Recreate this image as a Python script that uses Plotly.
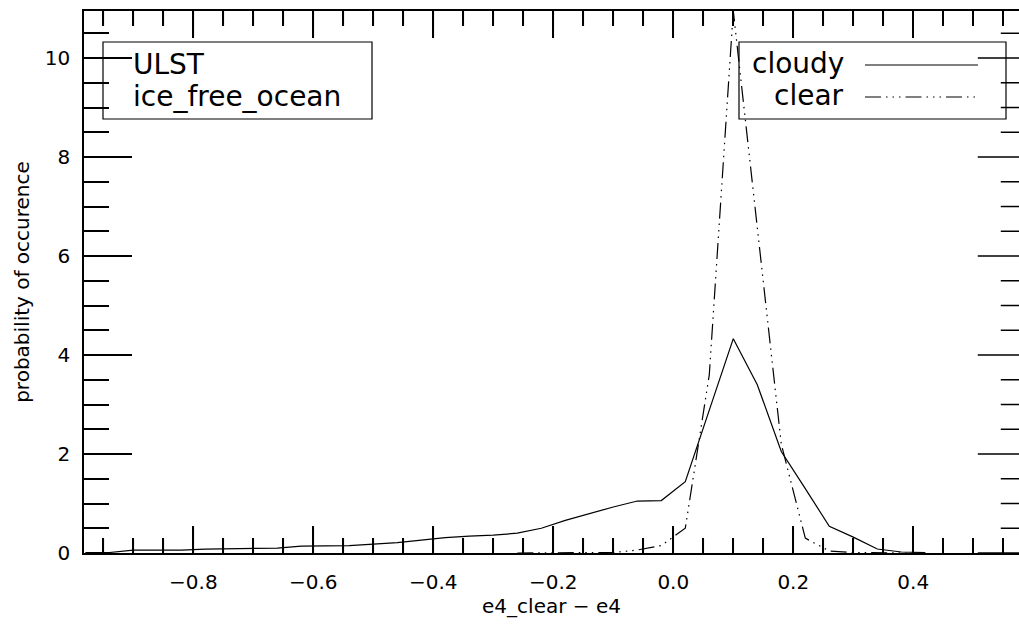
import plotly.graph_objects as go

# Histogram bin centres and probability of occurrence for each sky condition
cloudy_x = [-0.98, -0.94, -0.90, -0.86, -0.82, -0.78, -0.74, -0.70, -0.66, -0.62,
            -0.58, -0.54, -0.50, -0.46, -0.42, -0.38, -0.34, -0.30, -0.26, -0.22,
            -0.18, -0.14, -0.10, -0.06, -0.02, 0.02, 0.06, 0.10, 0.14, 0.18,
            0.22, 0.26, 0.30, 0.34, 0.38, 0.42]
cloudy_y = [0.01, 0.01, 0.06, 0.06, 0.06, 0.08, 0.09, 0.09, 0.10, 0.14,
            0.14, 0.15, 0.18, 0.21, 0.26, 0.31, 0.34, 0.36, 0.40, 0.50,
            0.66, 0.80, 0.93, 1.05, 1.06, 1.44, 2.90, 4.33, 3.40, 2.05,
            1.30, 0.54, 0.32, 0.08, 0.02, 0.01]

clear_x = [-0.26, -0.22, -0.18, -0.14, -0.10, -0.06, -0.02, 0.02, 0.06, 0.10,
           0.14, 0.18, 0.22, 0.26, 0.30, 0.34, 0.38, 0.42]
clear_y = [0.0, 0.0, 0.0, 0.01, 0.01, 0.06, 0.15, 0.50, 3.60, 10.95,
           6.55, 2.20, 0.30, 0.04, 0.01, 0.0, 0.0, 0.0]

X_MAJOR_STEP, X_MINOR_STEP = 0.2, 0.05
Y_MAJOR_STEP, Y_MINOR_STEP = 2, 0.5

X_RANGE = [-0.9822, 0.5762]
X_FRAME_RIGHT = 0.5875          # right-hand frame of the plot box
Y_RANGE = [0, 10.95]

W, H = 1019, 628
ML, MR, MT, MB = 84, 0, 11, 75
PW, PH = W - ML - MR, H - MT - MB
X_PX_PER_UNIT = PW / (X_RANGE[1] - X_RANGE[0])

X_TICK_MAJOR, X_TICK_MINOR = 27, 15     # tick lengths, px
Y_TICK_MAJOR, Y_TICK_MINOR = 48, 25

FONT = "DejaVu Sans"
DASH_DOT3 = "16px,5px,1.5px,5px,1.5px,5px,1.5px,5px"
INK = "black"


def px(xp):
    return (xp - ML) / PW


def py(yp):
    return (H - MB - yp) / PH


def is_multiple(v, step):
    return abs(v / step - round(v / step)) < 1e-6


fig = go.Figure()
fig.add_trace(go.Scatter(x=cloudy_x, y=cloudy_y, mode="lines", name="cloudy",
                         line=dict(color=INK, width=1.2), showlegend=False))
fig.add_trace(go.Scatter(x=clear_x, y=clear_y, mode="lines", name="clear",
                         line=dict(color=INK, width=1.2, dash=DASH_DOT3),
                         showlegend=False))

shapes = []
# x tick marks on the bottom and top frame (paper units vertically)
k0 = int(X_RANGE[0] // X_MINOR_STEP) + 1
k1 = int(X_RANGE[1] // X_MINOR_STEP)
for k in range(k0, k1 + 1):
    xv = round(k * X_MINOR_STEP, 6)
    ln = (X_TICK_MAJOR if is_multiple(xv, X_MAJOR_STEP) else X_TICK_MINOR) / PH
    shapes.append(dict(type="line", xref="x", yref="paper", layer="above",
                       x0=xv, x1=xv, y0=0.0, y1=ln,
                       line=dict(color=INK, width=1.5)))
    shapes.append(dict(type="line", xref="x", yref="paper", layer="above",
                       x0=xv, x1=xv, y0=1.0 - ln, y1=1.0,
                       line=dict(color=INK, width=1.5)))

# y tick marks on the right frame (frame edge lies just past the page edge)
n_minor = int(round(Y_RANGE[1] // Y_MINOR_STEP))
for i in range(n_minor + 1):
    yv = i * Y_MINOR_STEP
    ln = (Y_TICK_MAJOR if is_multiple(yv, Y_MAJOR_STEP) else Y_TICK_MINOR) / X_PX_PER_UNIT
    shapes.append(dict(type="line", xref="x", yref="y", layer="above",
                       x0=X_FRAME_RIGHT - ln, x1=X_FRAME_RIGHT, y0=yv, y1=yv,
                       line=dict(color=INK, width=1.5)))

# legend boxes and line samples
shapes += [
    dict(type="rect", xref="paper", yref="paper",
         x0=px(103), x1=px(372), y0=py(119), y1=py(42),
         line=dict(color=INK, width=1.2)),
    dict(type="rect", xref="paper", yref="paper",
         x0=px(739), x1=px(1006), y0=py(119), y1=py(42),
         line=dict(color=INK, width=1.2)),
    dict(type="line", xref="paper", yref="paper",
         x0=px(865), x1=px(978), y0=py(65), y1=py(65),
         line=dict(color=INK, width=1.2)),
    dict(type="line", xref="paper", yref="paper",
         x0=px(865), x1=px(978), y0=py(97), y1=py(97),
         line=dict(color=INK, width=1.2, dash=DASH_DOT3)),
]

legend_font = dict(family=FONT, size=28, color=INK)
annotations = [
    dict(text="ULST", xref="paper", yref="paper", x=px(131), y=py(64),
         xanchor="left", yanchor="middle", showarrow=False, font=legend_font),
    dict(text="ice_free_ocean", xref="paper", yref="paper", x=px(131), y=py(97),
         xanchor="left", yanchor="middle", showarrow=False, font=legend_font),
    dict(text="cloudy", xref="paper", yref="paper", x=px(846), y=py(63),
         xanchor="right", yanchor="middle", showarrow=False, font=legend_font),
    dict(text="clear", xref="paper", yref="paper", x=px(846), y=py(95),
         xanchor="right", yanchor="middle", showarrow=False, font=legend_font),
]

fig.update_layout(
    width=W, height=H,
    margin=dict(l=ML, r=MR, t=MT, b=MB, pad=0),
    paper_bgcolor="white", plot_bgcolor="white",
    font=dict(family=FONT, size=20, color=INK),
    shapes=shapes, annotations=annotations,
    showlegend=False,
)

fig.update_xaxes(
    range=X_RANGE, showgrid=False, zeroline=False,
    showline=True, linecolor=INK, linewidth=1.5, mirror="ticks",
    tickmode="linear", tick0=0, dtick=X_MAJOR_STEP,
    ticks="inside", ticklen=X_TICK_MAJOR, tickwidth=1.5, tickcolor=INK,
    minor=dict(ticks="inside", ticklen=X_TICK_MINOR, tickwidth=1.5, tickcolor=INK,
               dtick=X_MINOR_STEP, tick0=0, showgrid=False),
    tickformat=".1f",
    tickfont=dict(family=FONT, size=20), ticklabelstandoff=10,
    title=dict(text="e4_clear − e4", font=dict(family=FONT, size=20), standoff=0),
    automargin=False,
)
fig.update_yaxes(
    range=Y_RANGE, showgrid=False, zeroline=False,
    showline=True, linecolor=INK, linewidth=1.5, mirror=False,
    tickmode="linear", tick0=0, dtick=Y_MAJOR_STEP,
    ticks="inside", ticklen=Y_TICK_MAJOR, tickwidth=1.5, tickcolor=INK,
    tickfont=dict(family=FONT, size=20), ticklabelstandoff=8,
    minor=dict(ticks="inside", ticklen=Y_TICK_MINOR, tickwidth=1.5, tickcolor=INK,
               dtick=Y_MINOR_STEP, tick0=0, showgrid=False),
    title=dict(text="probability of occurence", font=dict(family=FONT, size=20),
               standoff=10),
    automargin=False,
)

fig.write_html("out.html")
